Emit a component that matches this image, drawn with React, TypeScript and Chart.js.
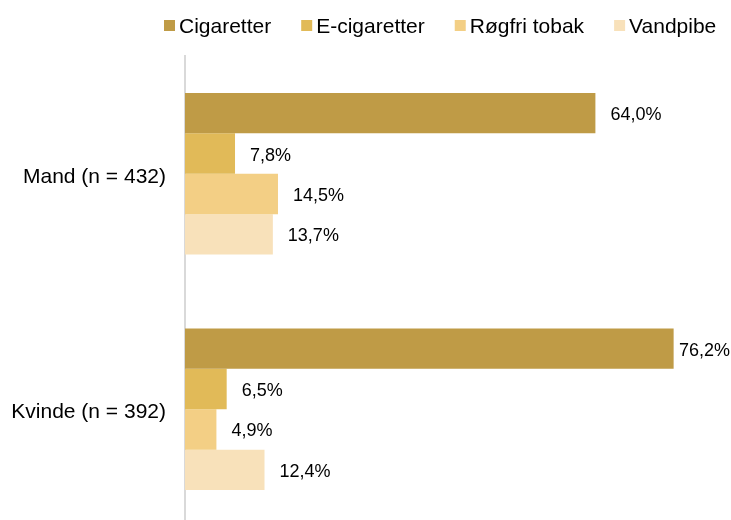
import React, { useEffect, useRef } from "react";
import { Chart, registerables } from "chart.js";

Chart.register(...registerables);

const categories = ["Mand (n = 432)", "Kvinde (n = 392)"];
const seriesNames = ["Cigaretter", "E-cigaretter", "Røgfri tobak", "Vandpibe"];
const cigaretter = [64.0, 76.2];
const eCigaretter = [7.8, 6.5];
const roegfriTobak = [14.5, 4.9];
const vandpibe = [13.7, 12.4];
const colors = ["#BF9B46", "#E1BA58", "#F3CF85", "#F8E1BA"];

const FONT = "'Liberation Sans', Arial, sans-serif";

const legendPlugin = {
  id: "customLegend",
  afterDraw(chart: any) {
    const ctx = chart.ctx;
    ctx.save();
    ctx.font = `21px ${FONT}`;
    ctx.textBaseline = "middle";
    ctx.textAlign = "left";
    let x = 164;
    const cy = 26;
    chart.data.datasets.forEach((ds: any) => {
      ctx.fillStyle = ds.backgroundColor;
      ctx.fillRect(x, cy - 6, 11, 11);
      x += 15;
      ctx.fillStyle = "#000";
      ctx.fillText(ds.label, x, cy + 1);
      x += ctx.measureText(ds.label).width + 30;
    });
    ctx.restore();
  },
};

const labelPlugin = {
  id: "barLabels",
  afterDatasetsDraw(chart: any) {
    const ctx = chart.ctx;
    ctx.save();
    ctx.font = `18px ${FONT}`;
    ctx.textBaseline = "middle";
    ctx.textAlign = "left";
    ctx.fillStyle = "#000";
    chart.data.datasets.forEach((ds: any, di: number) => {
      const meta = chart.getDatasetMeta(di);
      meta.data.forEach((bar: any, i: number) => {
        const v = ds.data[i];
        const txt = v.toFixed(1).replace(".", ",") + "%";
        const w = ctx.measureText(txt).width;
        let x = bar.x + 15;
        if (x + w > chart.width - 1) x = chart.width - 1 - w;
        ctx.fillText(txt, x, bar.y + 2);
      });
    });
    ctx.restore();
  },
};

export default function App() {
  const ref = useRef<HTMLCanvasElement | null>(null);
  useEffect(() => {
    if (!ref.current) return;
    const data = [cigaretter, eCigaretter, roegfriTobak, vandpibe];
    const chart = new Chart(ref.current, {
      type: "bar",
      data: {
        labels: categories,
        datasets: seriesNames.map((name, i) => ({
          label: name,
          data: data[i],
          backgroundColor: colors[i],
          borderWidth: 0,
          categoryPercentage: 0.686,
          barPercentage: 1,
        })),
      },
      options: {
        indexAxis: "y",
        responsive: true,
        maintainAspectRatio: false,
        animation: false,
        devicePixelRatio: 1,
        layout: { padding: { top: 56, right: 33, bottom: 0, left: 0 } },
        plugins: {
          legend: { display: false },
          tooltip: { enabled: false },
        },
        scales: {
          x: {
            display: false,
            min: 0,
            max: 80,
          },
          y: {
            grid: { display: false, drawTicks: false },
            border: { display: true, color: "#D9D9D9", width: 2 },
            ticks: {
              color: "#000",
              padding: 19,
              labelOffset: 3,
              font: { family: FONT, size: 21 },
            },
            afterFit: (scale: any) => {
              scale.width = 185;
              scale.paddingTop = 0;
              scale.paddingBottom = 0;
            },
          },
        },
      } as any,
      plugins: [legendPlugin, labelPlugin],
    });
    return () => chart.destroy();
  }, []);
  return (
    <div
      style={{
        position: "fixed",
        left: 0,
        top: 0,
        width: 731,
        height: 520,
        overflow: "hidden",
        background: "#fff",
      }}
    >
      <div style={{ position: "relative", width: 731, height: 527 }}>
        <canvas ref={ref} />
      </div>
    </div>
  );
}
